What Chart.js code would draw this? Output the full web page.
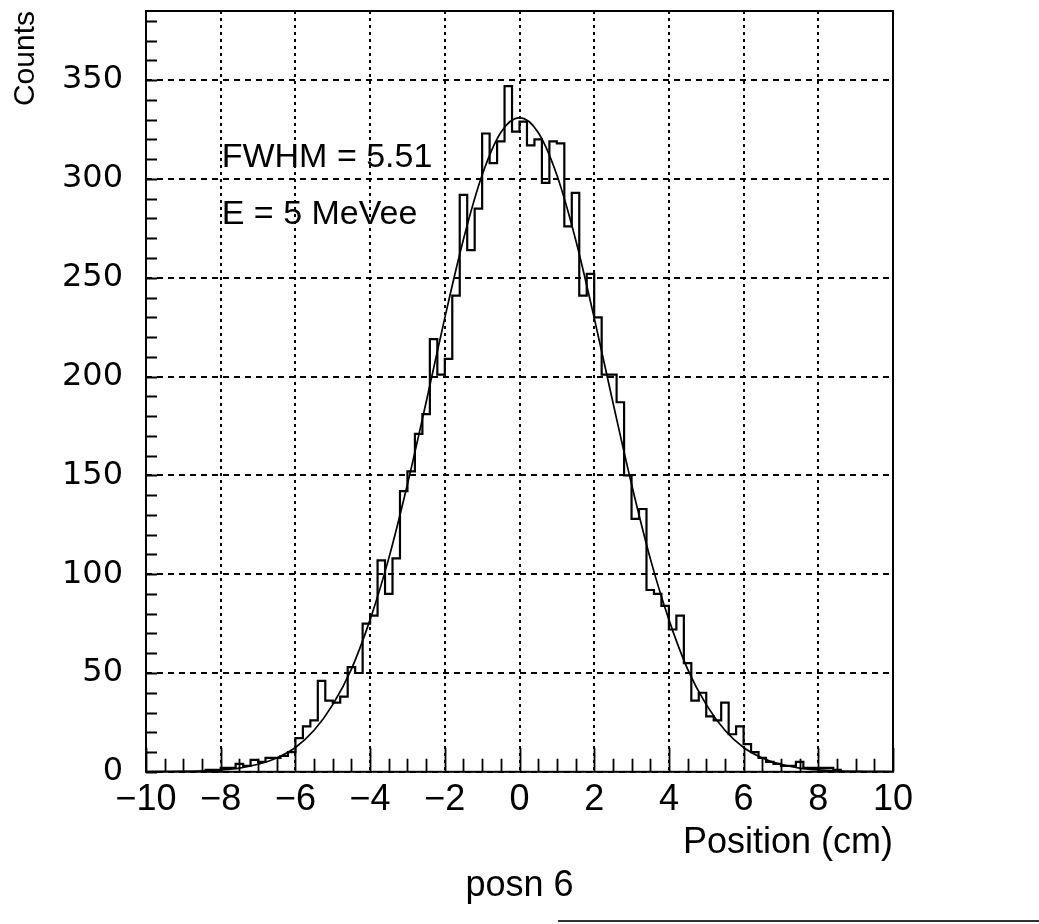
<!DOCTYPE html>
<html>
<head>
<meta charset="utf-8">
<title>posn 6</title>
<script src="https://cdn.jsdelivr.net/npm/chart.js@4.4.0/dist/chart.umd.min.js"></script>
<style>
    html, body { margin: 0; padding: 0; background: #fff; }
</style>
</head>
<body>
<canvas id="posnchart" width="1039" height="924"></canvas>
<script>
// position histogram, 100 bins of 0.2 cm between -10 and 10
const xMin = -10;
const xMax = 10;
const binWidth = 0.2;
const counts = [
    0, 0, 0, 0, 0, 0, 0, 0, 1, 1,
    2, 2, 4, 3, 6, 5, 7, 7, 8, 10,
    17, 23, 26, 46, 36, 35, 38, 53, 50, 75,
    79, 107, 90, 108, 142, 152, 171, 181, 219, 201,
    209, 241, 292, 264, 285, 323, 308, 319, 347, 324,
    329, 317, 320, 298, 319, 318, 276, 293, 241, 252,
    230, 201, 201, 187, 150, 128, 133, 92, 90, 84,
    72, 79, 55, 36, 40, 28, 26, 35, 19, 23,
    14, 10, 7, 5, 4, 3, 3, 5, 2, 2,
    2, 2, 1, 0, 0, 0, 0, 0, 0, 0
];

// gaussian fit, every 0.5 cm
const fitX = [
    -10, -9.5, -9, -8.5, -8, -7.5, -7, -6.5, -6, -5.5,
    -5, -4.5, -4, -3.5, -3, -2.5, -2, -1.5, -1, -0.5,
    0, 0.5, 1, 1.5, 2, 2.5, 3, 3.5, 4, 4.5,
    5, 5.5, 6, 6.5, 7, 7.5, 8, 8.5, 9, 9.5, 10
];
const fitY = [
    0, 0.1, 0.2, 0.45, 1, 1.9, 3.8, 7, 12.3, 21,
    34, 52, 77, 108, 145.5, 187, 229.7, 269.5, 302, 323.5,
    331, 323.5, 302, 269.5, 229.7, 187, 145.5, 108, 77, 52,
    34, 21, 12.3, 7, 3.8, 1.9, 1, 0.45, 0.2, 0.1, 0
];

const yMax = 385;
const infoText = ['FWHM = 5.51', 'E = 5 MeVee'];

// each bin as a flat top, so the line gives the histogram outline
var histPoints = [];
counts.forEach(function (c, i) {
    var lo = xMin + i * binWidth;
    histPoints.push({ x: lo, y: c });
    histPoints.push({ x: lo + binWidth, y: c });
});

var fitPoints = fitX.map(function (x, i) {
    return { x: x, y: fitY[i] };
});

const frameTicks = {
    id: 'frameTicks',
    afterDatasetsDraw(chart) {
        const { ctx, chartArea: { left, right, top, bottom }, scales: { x, y } } = chart;
        ctx.save();
        ctx.strokeStyle = '#000';
        ctx.lineWidth = 2;
        ctx.strokeRect(left, top, right - left, bottom - top);

        ctx.lineWidth = 1.8;
        ctx.beginPath();
        for (let v = 0; v <= yMax; v += 10) {
            const py = Math.round(y.getPixelForValue(v)) + 0.5;
            ctx.moveTo(left, py);
            ctx.lineTo(left + 11, py);
        }
        for (let i = 0; i <= 40; i++) {
            const px = Math.round(x.getPixelForValue(xMin + i * 0.5)) + 0.5;
            const len = (i % 4 === 0) ? 24 : 13;
            ctx.moveTo(px, bottom);
            ctx.lineTo(px, bottom - len);
        }
        ctx.stroke();

        ctx.fillStyle = '#000';
        ctx.font = '34px "Liberation Sans"';
        ctx.textAlign = 'left';
        ctx.textBaseline = 'alphabetic';
        ctx.fillText(infoText[0], x.getPixelForValue(-8) + 1, y.getPixelForValue(306));
        ctx.fillText(infoText[1], x.getPixelForValue(-8) + 1, y.getPixelForValue(277));

        // edge of the scanned sheet
        ctx.strokeStyle = '#333';
        ctx.lineWidth = 2;
        ctx.beginPath();
        ctx.moveTo(558, 921);
        ctx.lineTo(1039, 921);
        ctx.stroke();
        ctx.restore();
    }
};

function noEndPadding(scale) {
    scale.paddingTop = 0;
    scale.paddingBottom = 0;
}

var ctx = document.getElementById('posnchart');
var posnChart = new Chart(ctx, {
    type: 'line',
    data: {
        datasets: [{
            label: 'posn 6',
            data: histPoints,
            borderColor: '#000',
            borderWidth: 2.2,
            pointRadius: 0,
            tension: 0,
            fill: false
        },
        {
            label: 'Gaussian fit',
            data: fitPoints,
            borderColor: '#000',
            borderWidth: 1.7,
            pointRadius: 0,
            cubicInterpolationMode: 'monotone',
            fill: false
        }]
    },
    options: {
        responsive: false,
        animation: false,
        devicePixelRatio: 1,
        layout: {
            padding: { left: 0, right: 0, top: 11, bottom: 0 }
        },
        scales: {
            x: {
                type: 'linear',
                min: xMin,
                max: xMax,
                afterFit: function (scale) {
                    scale.height = 93;
                    scale.paddingLeft = 0;
                    scale.paddingRight = 0;
                },
                grid: {
                    color: '#000',
                    lineWidth: 2,
                    drawTicks: false
                },
                border: { display: false, dash: [3, 4] },
                ticks: {
                    stepSize: 2,
                    autoSkip: false,
                    maxRotation: 0,
                    padding: 7,
                    color: '#000',
                    font: { family: 'Liberation Sans', size: 36 },
                    callback: function (value) {
                        return String(value).replace('-', '\u2212');
                    }
                },
                title: {
                    display: true,
                    text: 'Position (cm)',
                    align: 'end',
                    color: '#000',
                    font: { family: 'Liberation Sans', size: 36 },
                    padding: { top: 0, bottom: 0 }
                }
            },
            y: {
                min: 0,
                max: yMax,
                afterFit: function (scale) {
                    scale.width = 146;
                    noEndPadding(scale);
                },
                grid: {
                    color: '#000',
                    lineWidth: 2,
                    drawTicks: false
                },
                border: { display: false, dash: [6, 5] },
                ticks: {
                    stepSize: 50,
                    includeBounds: false,
                    padding: 23,
                    color: '#000',
                    font: { family: 'DejaVu Sans', size: 32 }
                },
                title: {
                    display: true,
                    text: 'Counts',
                    align: 'end',
                    color: '#000',
                    font: { family: 'Liberation Sans', size: 30 },
                    padding: { top: 8, bottom: 0 }
                }
            },
            // empty axis on the right keeps the white margin beside the frame
            yRight: {
                position: 'right',
                min: 0,
                max: yMax,
                afterFit: function (scale) {
                    scale.width = 146;
                    noEndPadding(scale);
                },
                grid: { drawOnChartArea: false, drawTicks: false },
                border: { display: false },
                ticks: { display: false }
            }
        },
        plugins: {
            legend: { display: false },
            tooltip: { enabled: false },
            title: {
                display: true,
                position: 'bottom',
                text: 'posn 6',
                color: '#000',
                font: { family: 'Liberation Sans', size: 36, weight: 'normal' },
                padding: { top: 0, bottom: 16 }
            }
        }
    },
    plugins: [frameTicks]
});
</script>
</body>
</html>
